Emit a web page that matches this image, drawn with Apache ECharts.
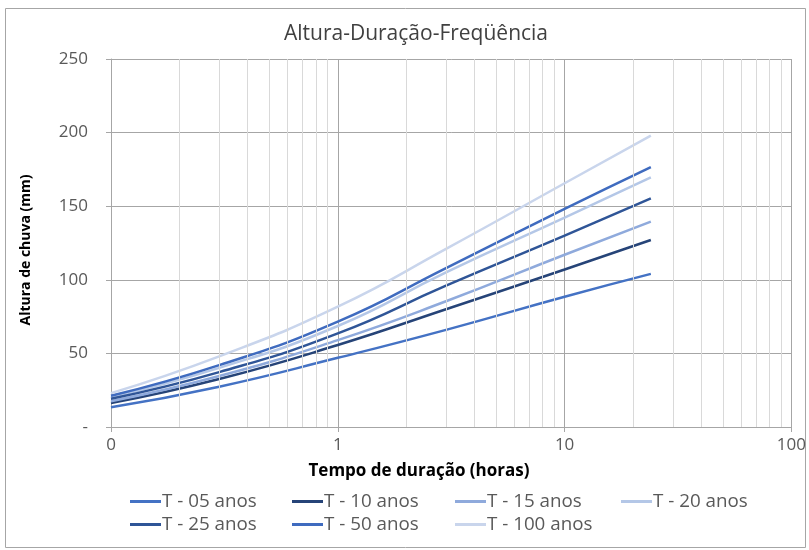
<!DOCTYPE html>
<html><head><meta charset="utf-8">
<script src="https://cdn.jsdelivr.net/npm/echarts@6/dist/echarts.min.js"></script>
<style>html,body{margin:0;padding:0;background:#fff}#c{width:809px;height:550px}</style>
</head><body><div id="c"></div>
<script>
const durations = [0.1, 0.3, 1, 3, 10, 24];
const seriesNames = ['T - 05 anos','T - 10 anos','T - 15 anos','T - 20 anos','T - 25 anos','T - 50 anos','T - 100 anos'];
const t05  = [13.4, 27.4, 47.0, 66.0,  88.5, 104.0];
const t10  = [16.3, 32.6, 55.7, 80.0, 107.0, 127.0];
const t15  = [17.5, 34.6, 59.0, 85.4, 117.0, 139.5];
const t20  = [20.3, 40.2, 68.6, 105.0, 142.2, 169.6];
const t25  = [19.2, 37.3, 63.6, 96.0, 130.0, 155.3];
const t50  = [21.2, 42.0, 71.6, 108.0, 148.2, 176.6];
const t100 = [23.0, 48.0, 81.7, 121.0, 165.6, 198.0];
const yTicks = [0, 50, 100, 150, 200, 250];
const minorX = [0.2,0.3,0.4,0.5,0.6,0.7,0.8,0.9,2,3,4,5,6,7,8,9,20,30,40,50,60,70,80,90];

const colors = ['#4472C4','#264478','#8FAADC','#B4C7E7','#2F5597','#3F6BBF','#C9D5EC'];
const allData = [t05,t10,t15,t20,t25,t50,t100];
const FONT = '"Open Sans"';

const series = allData.map((d,i)=>({
  name: seriesNames[i], type:'line', smooth:true, showSymbol:false, symbol:'none',
  data: d.map((v,j)=>[durations[j], v]),
  lineStyle:{color:colors[i], width:2.5}, itemStyle:{color:colors[i]},
  z: 3
}));
series.unshift({
  type:'line', data:[], silent:true, z:1,
  markLine:{silent:true, symbol:['none','none'], label:{show:false},
    lineStyle:{color:'#D9D9D9', width:1, type:'solid'},
    data: minorX.map(x=>({xAxis:x}))}
});

const legCols = [130, 292, 455, 621];
const legends = seriesNames.map((n,i)=>({
  data:[n], left: legCols[i%4], top: i<4 ? 492 : 515, padding:0,
  icon:'rect', itemWidth:31, itemHeight:3, itemGap:0,
  textStyle:{fontFamily:FONT, fontSize:18.8, color:'#595959', padding:[0,0,0,-4]},
  selectedMode:false
}));

const chart = echarts.init(document.getElementById('c'), null, {renderer:'canvas'});
chart.setOption({
  animation:false,
  backgroundColor:'#fff',
  grid:{left:111, right:15, top:59, bottom:123, containLabel:false},
  legend: legends,
  xAxis:{type:'log', logBase:10, min:0.1, max:100,
    axisLine:{show:true, lineStyle:{color:'#A6A6A6'}},
    axisTick:{show:true, length:5, lineStyle:{color:'#A6A6A6'}},
    axisLabel:{fontFamily:FONT, fontSize:17, color:'#595959', margin:10,
      formatter:v=> v<1 ? '0' : String(Math.round(v))},
    splitLine:{show:true, lineStyle:{color:'#A6A6A6', width:1}},
    minorTick:{show:false}, minorSplitLine:{show:false}
  },
  yAxis:{type:'value', min:0, max:250, interval:50,
    axisLine:{show:true, lineStyle:{color:'#A6A6A6'}},
    axisTick:{show:true, length:5, lineStyle:{color:'#A6A6A6'}},
    axisLabel:{fontFamily:FONT, fontSize:17, color:'#595959', margin:23,
      formatter:v=> v===0 ? '-' : String(v)},
    splitLine:{show:true, lineStyle:{color:'#A6A6A6', width:1}}
  },
  graphic:[
    {type:'rect', shape:{x:5.5, y:8.5, width:800, height:539}, style:{fill:'none', stroke:'#A6A6A6', lineWidth:1}, z:-1},
    {type:'text', x:416, y:34, style:{text:'Altura-Duração-Freqüência', font:'21px '+FONT, fill:'#404040', textAlign:'center', textVerticalAlign:'middle'}},
    {type:'text', x:419, y:471, style:{text:'Tempo de duração (horas)', font:'bold 17px '+FONT, fill:'#000', textAlign:'center', textVerticalAlign:'middle'}},
    {type:'text', x:26, y:250, rotation:Math.PI/2, style:{text:'Altura de chuva (mm)', font:'bold 14px '+FONT, fill:'#000', textAlign:'center', textVerticalAlign:'middle'}}
  ],
  series: series
});
</script></body></html>
